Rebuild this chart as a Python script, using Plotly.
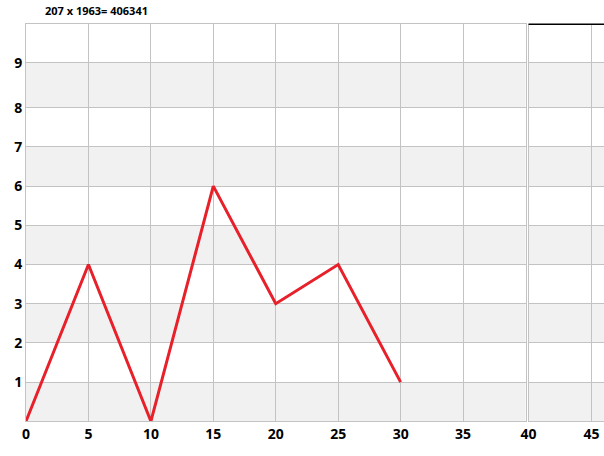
import plotly.graph_objects as go

# data
x_vals = [0, 5, 10, 15, 20, 25, 30]
y_vals = [0, 4, 0, 6, 3, 4, 1]
title_text = "207 x 1963= 406341"
main_xticks = [0, 5, 10, 15, 20, 25, 30, 35]
right_xticks = [40, 45]
y_tickvals = [1, 2, 3, 4, 5, 6, 7, 8, 9.15]
y_ticktext = ["1", "2", "3", "4", "5", "6", "7", "8", "9"]
band_ranges = [(0, 1), (2, 3), (4, 5), (6, 7), (8, 9.15)]

W, H = 604, 456
grid = "#c3c3c3"
tickfont = dict(family="Open Sans", size=14, color="black", weight="bold")

fig = go.Figure()
fig.add_trace(go.Scatter(x=x_vals, y=y_vals, mode="lines",
                         line=dict(color="#e8202a", width=3),
                         xaxis="x", yaxis="y", cliponaxis=False, showlegend=False))
fig.add_trace(go.Scatter(x=[None], y=[None], xaxis="x2", yaxis="y2", showlegend=False))

shapes = []
for (a, b) in band_ranges:
    for xr in ["x domain", "x2 domain"]:
        shapes.append(dict(type="rect", xref=xr, yref="y", x0=0, x1=1, y0=a, y1=b,
                           fillcolor="#f1f1f1", line=dict(width=0), layer="below"))
shapes.append(dict(type="line", xref="x2 domain", yref="y domain", x0=0, x1=1, y0=1, y1=1,
                   line=dict(color="black", width=1.5)))

ydom = [(H - 421.3) / H, (H - 24.3) / H]
fig.update_layout(
    width=W, height=H, margin=dict(l=0, r=0, t=0, b=0, autoexpand=False),
    paper_bgcolor="white", plot_bgcolor="rgba(0,0,0,0)",
    shapes=shapes,
    xaxis=dict(domain=[26 / W, 525.5 / W], range=[0, 40], tickvals=main_xticks,
               showgrid=True, gridcolor=grid, gridwidth=1, zeroline=False,
               showline=True, linecolor=grid, linewidth=1, mirror=True,
               tickfont=tickfont, ticks="", anchor="y", automargin=False),
    xaxis2=dict(domain=[528.5 / W, 1], range=[40, 46], tickvals=right_xticks,
                showgrid=True, gridcolor=grid, gridwidth=1, zeroline=False,
                showline=True, linecolor=grid, linewidth=1,
                tickfont=tickfont, ticks="", anchor="y2", automargin=False),
    yaxis=dict(domain=ydom, range=[0, 10.13], tickvals=y_tickvals, ticktext=y_ticktext,
               showgrid=True, gridcolor=grid, gridwidth=1, zeroline=False,
               showline=True, linecolor=grid, linewidth=1, mirror=True,
               tickfont=tickfont, ticks="", anchor="x", automargin=False),
    yaxis2=dict(domain=ydom, range=[0, 10.13], tickvals=y_tickvals, matches="y",
                showgrid=True, gridcolor=grid, gridwidth=1, zeroline=False,
                showline=True, linecolor=grid, linewidth=1,
                showticklabels=False, ticks="", anchor="x2", automargin=False),
    annotations=[dict(text=title_text, xref="paper", yref="paper", x=43 / W, y=1 - 1 / H,
                      xanchor="left", yanchor="top", showarrow=False,
                      font=dict(family="Open Sans", size=11, color="black", weight="bold"))],
)
fig.write_html("out.html", config={"displayModeBar": False},
               post_script="document.body.style.margin='0';")
